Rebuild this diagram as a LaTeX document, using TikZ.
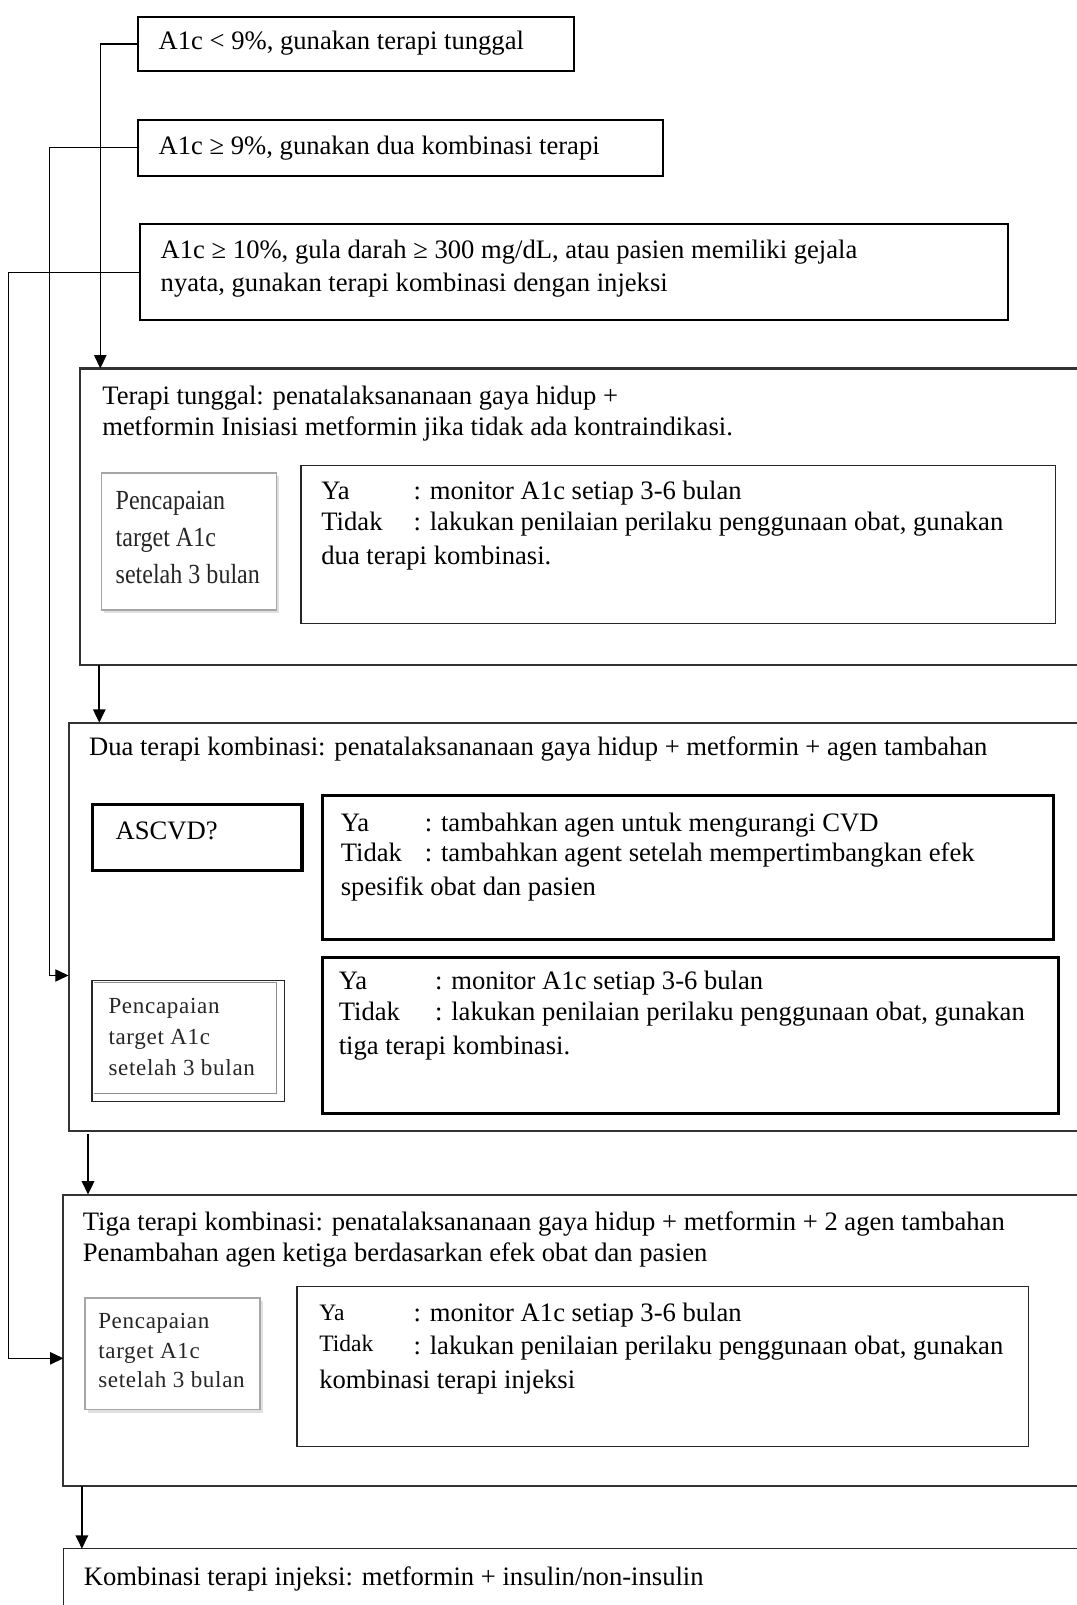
\documentclass[tikz,border=0pt]{standalone}
\usepackage{fontspec}
\setmainfont{Liberation Serif}
\newfontfamily\pfont[LetterSpace=3]{Liberation Serif}
\usetikzlibrary{arrows.meta}
\begin{document}
\begin{tikzpicture}[x=1pt,y=-1pt,
  every node/.style={inner sep=0pt, outer sep=0pt},
  txt/.style={anchor=base west, font=\fontsize{26}{32}\selectfont},
  ytxt/.style={anchor=base west, font=\fontsize{23}{30}\selectfont},
  ptxt/.style={anchor=north west, align=left, text=black!85},
  frame/.style={draw, anchor=north west, line width=1.8pt, fill=none},
  big/.style={draw, anchor=north west, line width=2pt, draw=black!80},
  thin/.style={draw, anchor=north west, line width=1.3pt},
  heavy/.style={draw, anchor=north west, line width=3pt},
  grayb/.style={draw=black!35, anchor=north west, line width=1.2pt},
  conn/.style={line width=1.1pt, -{Triangle[length=13pt,width=12pt]}},
  darr/.style={line width=2pt, -{Triangle[length=13pt,width=12pt]}}]
\useasboundingbox (0,0) rectangle (1052,1568);
\clip (0,0) rectangle (1052,1568);
\fill[white] (0,0) rectangle (1052,1568);

% top condition boxes
\node[frame, minimum width=426pt, minimum height=52pt] (b1) at (135,17) {};
\node[txt] (t1) at (155,48) {A1c < 9\%, gunakan terapi tunggal};
\node[frame, minimum width=513pt, minimum height=55pt] (b2) at (135,117) {};
\node[txt] (t2) at (155,151) {A1c ≥ 9\%, gunakan dua kombinasi terapi};
\node[frame, minimum width=848pt, minimum height=94pt] (b3) at (137,219) {};
\node[txt] (t3a) at (157,253) {A1c ≥ 10\%, gula darah ≥ 300 mg/dL, atau pasien memiliki gejala};
\node[txt] (t3b) at (157,285) {nyata, gunakan terapi kombinasi dengan injeksi};

% big box 1
\node[big, minimum width=1100pt, minimum height=290pt] (g1) at (78,360) {};
\node[txt] (g1a) at (100,395) {Terapi tunggal: penatalaksananaan gaya hidup +};
\node[txt] (g1b) at (100,425) {metformin Inisiasi metformin jika tidak ada kontraindikasi.};
\fill[black!12] (102,465) rectangle (273,599);
\node[grayb, fill=white, minimum width=171pt, minimum height=134pt] (p1) at (99,462) {};
\node[ptxt, font=\fontsize{27}{36}\selectfont] (p1t) at (113,480) {\scalebox{0.87}[1]{Pencapaian}\\\scalebox{0.87}[1]{target A1c}\\\scalebox{0.87}[1]{setelah 3 bulan}};
\node[thin, draw=black!85, minimum width=737pt, minimum height=154pt] (y1) at (294,455) {};
\node[txt] (y1a) at (314,488) {Ya};
\node[txt] (y1b) at (404,488) {: monitor A1c setiap 3-6 bulan};
\node[txt] (y1c) at (314,518) {Tidak};
\node[txt] (y1d) at (404,518) {: lakukan penilaian perilaku penggunaan obat, gunakan};
\node[txt] (y1e) at (314,551) {dua terapi kombinasi.};

% big box 2
\node[big, minimum width=1100pt, minimum height=399pt] (g2) at (67,706) {};
\node[txt] (g2a) at (87,738) {Dua terapi kombinasi: penatalaksananaan gaya hidup + metformin + agen tambahan};
\node[heavy, minimum width=205pt, minimum height=64pt] (as) at (90,786) {};
\node[txt] (ast) at (113,820) {ASCVD?};
\node[heavy, minimum width=714pt, minimum height=141pt] (y2) at (315,777) {};
\node[txt] (y2a) at (333,812) {Ya};
\node[txt] (y2b) at (415,812) {: tambahkan agen untuk mengurangi CVD};
\node[txt] (y2c) at (333,842) {Tidak};
\node[txt] (y2d) at (415,842) {: tambahkan agent setelah mempertimbangkan efek};
\node[txt] (y2e) at (333,875) {spesifik obat dan pasien};
\node[thin, draw=black!85, minimum width=188pt, minimum height=118pt] (p2) at (90,958) {};
\draw[black!45, line width=1pt] (92,960) -- (270,960) -- (270,1068) -- (92,1068);
\node[ptxt, font=\pfont\fontsize{22.5}{30.5}\selectfont] (p2t) at (106,975) {Pencapaian\\target A1c\\setelah 3 bulan};
\node[heavy, minimum width=719pt, minimum height=153pt] (y3) at (315,935) {};
\node[txt] (y3a) at (331,967) {Ya};
\node[txt] (y3b) at (425,967) {: monitor A1c setiap 3-6 bulan};
\node[txt] (y3c) at (331,997) {Tidak};
\node[txt] (y3d) at (425,997) {: lakukan penilaian perilaku penggunaan obat, gunakan};
\node[txt] (y3e) at (331,1030) {tiga terapi kombinasi.};

% big box 3
\node[big, minimum width=1100pt, minimum height=285pt] (g3) at (62,1167) {};
\node[txt] (g3a) at (81,1202) {Tiga terapi kombinasi: penatalaksananaan gaya hidup + metformin + 2 agen tambahan};
\node[txt] (g3b) at (81,1232) {Penambahan agen ketiga berdasarkan efek obat dan pasien};
\fill[black!12] (86,1271) rectangle (257,1380);
\node[grayb, fill=white, minimum width=171pt, minimum height=109pt] (p3) at (83,1268) {};
\node[ptxt, font=\pfont\fontsize{22.5}{29}\selectfont] (p3t) at (96,1283) {Pencapaian\\target A1c\\setelah 3 bulan};
\node[thin, draw=black!85, minimum width=715pt, minimum height=156pt] (y4) at (290,1257) {};
\node[ytxt] (y4a) at (312,1290) {Ya};
\node[txt] (y4b) at (404,1291) {: monitor A1c setiap 3-6 bulan};
\node[ytxt] (y4c) at (312,1320) {Tidak};
\node[txt] (y4d) at (404,1323) {: lakukan penilaian perilaku penggunaan obat, gunakan};
\node[txt] (y4e) at (312,1356) {kombinasi terapi injeksi};

% bottom box
\node[thin, draw=black!85, minimum width=1100pt, minimum height=120pt] (g4) at (62,1513) {};
\node[txt] (g4a) at (82,1549) {Kombinasi terapi injeksi: metformin + insulin/non-insulin};

% connectors
\draw[conn] (b1.west) -| ([xshift=20pt]g1.north west);
\draw[conn] (b2.west) -- ++(-87,0) |- (g2.west |- 0,953);
\draw[conn] (b3.west) -- ++(-129,0) |- (g3.west |- 0,1327);
\draw[darr] ([xshift=19pt]g1.south west) -- ([xshift=19pt]g1.south west |- g2.north);
\draw[darr] ([xshift=19pt]g2.south west) ++(0,3) -- ([xshift=24pt]g3.north west);
\draw[darr] ([xshift=18pt]g3.south west) -- ([xshift=18pt]g3.south west |- g4.north);
\end{tikzpicture}
\end{document}
